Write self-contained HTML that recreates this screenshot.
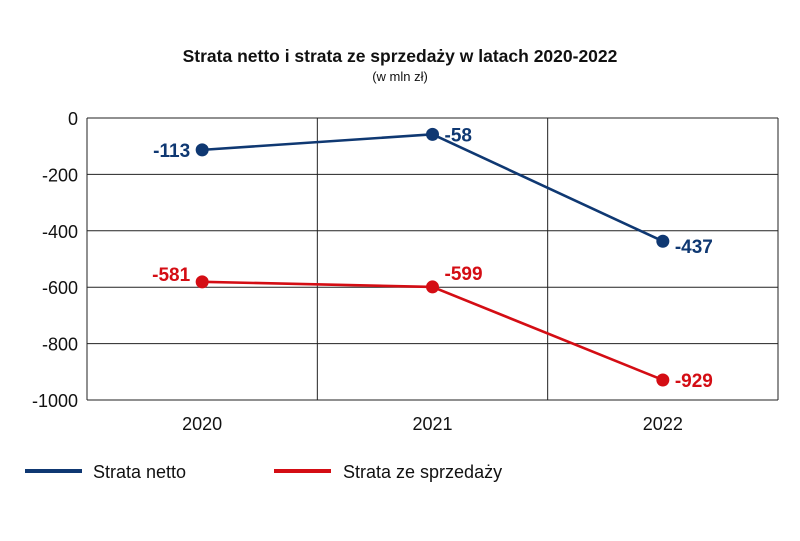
<!DOCTYPE html>
<html><head><meta charset="utf-8"><style>
body{margin:0;background:#fff;font-family:"Liberation Sans","DejaVu Sans",sans-serif;}
</style></head><body>
<svg id="c" width="800" height="536" xmlns="http://www.w3.org/2000/svg">
<text x="400" y="62" text-anchor="middle" font-size="17.5" font-weight="bold" fill="#111">Strata netto i strata ze sprzedaży w latach 2020-2022</text>
<text x="400" y="81" text-anchor="middle" font-size="13" fill="#111">(w mln zł)</text>
<g id="grid"></g><g id="series"></g>
<g>
<line x1="25" y1="471" x2="82" y2="471" stroke="#0f3872" stroke-width="4"/>
<text x="93" y="478" font-size="18" fill="#111">Strata netto</text>
<line x1="274" y1="471" x2="331" y2="471" stroke="#d40d14" stroke-width="4"/>
<text x="343" y="478" font-size="18" fill="#111">Strata ze sprzedaży</text>
</g>
</svg>
<script>
const categories=["2020","2021","2022"];
const netto=[-113,-58,-437];
const sprzedaz=[-581,-599,-929];
const yTicks=[0,-200,-400,-600,-800,-1000];
const NS="http://www.w3.org/2000/svg";
const L=87,R=778,T=118,B=400;
const bw=(R-L)/categories.length;
const xs=i=>L+bw*(i+0.5);
const ys=v=>T+(0-v)/1000*(B-T);
function mk(tag,attrs,parent){const e=document.createElementNS(NS,tag);for(const k in attrs)e.setAttribute(k,attrs[k]);parent.appendChild(e);return e;}
const g=document.getElementById('grid'),s=document.getElementById('series');
yTicks.forEach(v=>{
 const l=mk('line',{x1:L,x2:R,y1:ys(v),y2:ys(v),stroke:'#222','stroke-width':1},g);
 
 
 const t=mk('text',{x:78,y:ys(v)+7,'text-anchor':'end','font-size':18,fill:'#111'},g);
 t.textContent=v;
 
 
});
for(let i=0;i<=categories.length;i++){
 const l=mk('line',{x1:L+bw*i,x2:L+bw*i,y1:T,y2:B,stroke:'#222','stroke-width':1},g);
 
 
}
categories.forEach((c,i)=>{
 const t=mk('text',{x:xs(i),y:430,'text-anchor':'middle','font-size':18,fill:'#111'},g);
 t.textContent=c;
 
 
});
function series(vals,color,name,labelPos,dy){
 const p=mk('polyline',{points:vals.map((v,i)=>xs(i)+','+ys(v)).join(' '),fill:'none',stroke:color,'stroke-width':2.6},s);
 
 
 vals.forEach((v,i)=>{
  const c=mk('circle',{cx:xs(i),cy:ys(v),r:6.5,fill:color},s);
  
  
  const left=labelPos[i]==='l';
  const t=mk('text',{x:left?xs(i)-12:xs(i)+12,y:ys(v)+7+dy[i],'text-anchor':left?'end':'start','font-size':19,'font-weight':'bold',fill:color},s);
  t.textContent=v;
  
  
 });
}
series(netto,'#0f3872','netto',['l','r','r'],[0,0,5]);
series(sprzedaz,'#d40d14','sprzedaz',['l','r','r'],[-8,-14,0]);
</script>
</body></html>
